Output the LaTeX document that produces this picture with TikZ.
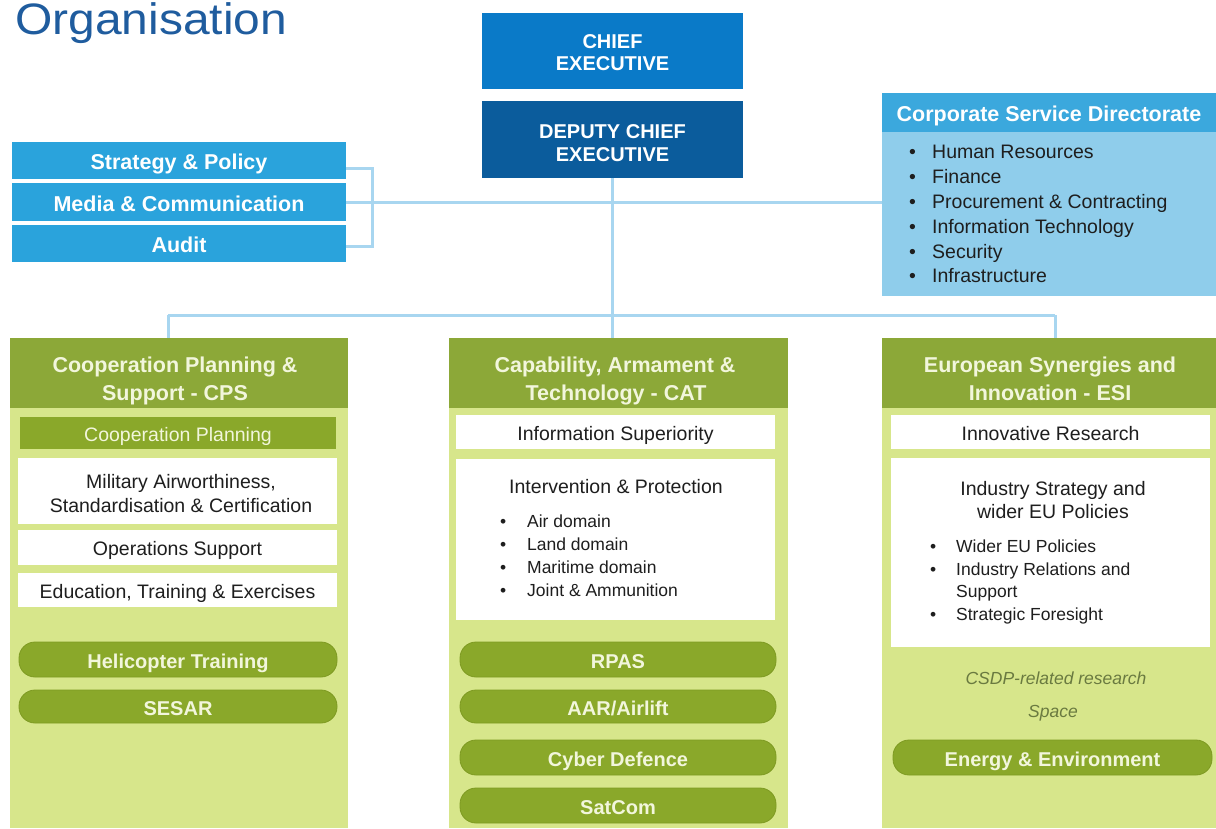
\documentclass[tikz,border=0pt]{standalone}
\usepackage{fontspec}
\setmainfont{Liberation Sans}
\definecolor{titleblue}{HTML}{1F5C9E}
\definecolor{ceblue}{HTML}{0A7AC8}
\definecolor{dceblue}{HTML}{0B5C9C}
\definecolor{skyblue}{HTML}{2AA3DC}
\definecolor{csdhead}{HTML}{3BA8DD}
\definecolor{csdbody}{HTML}{8FCDEB}
\definecolor{conncol}{HTML}{A8D6F0}
\definecolor{greenhead}{HTML}{8CA838}
\definecolor{greenbody}{HTML}{D7E68B}
\definecolor{pillgreen}{HTML}{8AA82A}
\definecolor{pilledge}{HTML}{7E9A22}
\definecolor{cream}{HTML}{F2F6DC}
\definecolor{darktext}{HTML}{1E1E1E}
\definecolor{olive}{HTML}{6A7A40}
\newcommand\fhead{\fontsize{21.5pt}{26pt}\selectfont\bfseries}
\newcommand\fexec{\fontsize{20pt}{24pt}\selectfont\bfseries}
\newcommand\fbody{\fontsize{19.5pt}{23pt}\selectfont}
\newcommand\fsmall{\fontsize{17.5pt}{21pt}\selectfont}
\newcommand\fpill{\fontsize{20pt}{24pt}\selectfont\bfseries}
\newcommand\ftitle{\fontsize{44pt}{50pt}\selectfont}
\tikzset{
  bx/.style={rectangle, inner sep=0pt, draw=none},
  sidebox/.style={bx, fill=skyblue, minimum width=334pt, text=white, font=\fhead, text height=18pt, text depth=0pt},
  wbox/.style={bx, fill=white, text=darktext, font=\fbody, text height=16.5pt, text depth=0pt},
  pill/.style={rectangle, rounded corners=16pt, fill=pillgreen, draw=pilledge, line width=0.8pt, inner sep=0pt, text=cream, font=\fpill, text height=17pt, text depth=0pt},
  txt/.style={inner sep=0pt, anchor=base},
  hd/.style={txt, font=\fhead, text=cream},
  ex/.style={txt, font=\fexec, text=white},
  ln/.style={txt, font=\fbody, text=darktext},
  itm/.style={inner sep=0pt, anchor=base west, text=darktext},
  conn/.style={draw=conncol, line width=3pt}
}
\begin{document}
\begin{tikzpicture}[x=1pt,y=-1pt]
\useasboundingbox (0,0) rectangle (1216,828);
% title
\node[inner sep=0pt, anchor=base west, font=\ftitle, text=titleblue, xscale=1.09] (title) at (15,34.5) {Organisation};
% executive boxes
\node[bx, fill=ceblue, minimum width=261pt, minimum height=76pt] (ce) at (612.5,51) {};
\node[ex] (ce1) at (612.5,48) {CHIEF};
\node[ex] (ce2) at (612.5,70) {EXECUTIVE};
\node[bx, fill=dceblue, minimum width=261pt, minimum height=77pt] (dce) at (612.5,139.5) {};
\node[ex] (dce1) at (612.5,138) {DEPUTY CHIEF};
\node[ex] (dce2) at (612.5,161) {EXECUTIVE};
% side boxes
\node[sidebox, minimum height=37pt] (sp) at (179,160.5) {Strategy \& Policy};
\node[sidebox, minimum height=38pt] (media) at (179,202) {Media \& Communication};
\node[sidebox, minimum height=37pt] (audit) at (179,243.5) {Audit};
% corporate
\node[bx, fill=csdbody, minimum width=334pt, minimum height=164pt] (csd) at (1049,214) {};
\node[bx, fill=csdhead, minimum width=334pt, minimum height=39pt, text=white, font=\fhead, text height=18pt, text depth=0pt] (csdh) at (1049,112.5) {Corporate Service Directorate};
\begin{scope}[every node/.style={itm, font=\fbody}]
\node (ci1) at (909,158) {\makebox[23pt][l]{•}Human Resources};
\node (ci2) at (909,183) {\makebox[23pt][l]{•}Finance};
\node (ci3) at (909,208) {\makebox[23pt][l]{•}Procurement \& Contracting};
\node (ci4) at (909,233) {\makebox[23pt][l]{•}Information Technology};
\node (ci5) at (909,258) {\makebox[23pt][l]{•}Security};
\node (ci6) at (909,282) {\makebox[23pt][l]{•}Infrastructure};
\end{scope}
% columns
\node[bx, fill=greenbody, minimum width=338pt, minimum height=490pt] (cps) at (179,583) {};
\node[bx, fill=greenhead, minimum width=338pt, minimum height=70pt] (cpsh) at (179,373) {};
\node[hd] (cpsh1) at (175,372) {Cooperation Planning \&};
\node[hd] (cpsh2) at (175,400) {Support - CPS};
\node[bx, fill=greenbody, minimum width=339pt, minimum height=490pt] (cat) at (618.5,583) {};
\node[bx, fill=greenhead, minimum width=339pt, minimum height=70pt] (cath) at (618.5,373) {};
\node[hd] (cath1) at (615,372) {Capability, Armament \&};
\node[hd] (cath2) at (616,400) {Technology - CAT};
\node[bx, fill=greenbody, minimum width=334pt, minimum height=490pt] (esi) at (1049,583) {};
\node[bx, fill=greenhead, minimum width=334pt, minimum height=70pt] (esih) at (1049,373) {};
\node[hd] (esih1) at (1050,372) {European Synergies and};
\node[hd] (esih2) at (1050,400) {Innovation - ESI};
% CPS content
\node[bx, fill=pillgreen, minimum width=316pt, minimum height=32pt, text=cream, font=\fbody, text height=16.5pt, text depth=0pt] (coop) at (178,433) {Cooperation Planning};
\node[wbox, minimum width=319pt, minimum height=66pt] (mil) at (177.5,491) {};
\node[ln] (mil1) at (181,488) {Military Airworthiness,};
\node[ln] (mil2) at (181,512) {Standardisation \& Certification};
\node[wbox, minimum width=319pt, minimum height=35pt] (ops) at (177.5,547.5) {Operations Support};
\node[wbox, minimum width=319pt, minimum height=34pt] (edu) at (177.5,590) {Education, Training \& Exercises};
\node[pill, minimum width=318pt, minimum height=35pt] (heli) at (178,659.5) {Helicopter Training};
\node[pill, minimum width=318pt, minimum height=33pt] (sesar) at (178,706.5) {SESAR};
% CAT content
\node[wbox, minimum width=319pt, minimum height=34pt] (info) at (615.5,432) {Information Superiority};
\node[wbox, minimum width=319pt, minimum height=161pt] (ip) at (615.5,539.5) {};
\node[ln] (ip0) at (616,493) {Intervention \& Protection};
\begin{scope}[every node/.style={itm, font=\fsmall}]
\node (ip1) at (500,527) {\makebox[27pt][l]{•}Air domain};
\node (ip2) at (500,550) {\makebox[27pt][l]{•}Land domain};
\node (ip3) at (500,573) {\makebox[27pt][l]{•}Maritime domain};
\node (ip4) at (500,596) {\makebox[27pt][l]{•}Joint \& Ammunition};
\end{scope}
\node[pill, minimum width=316pt, minimum height=35pt] (rpas) at (618,659.5) {RPAS};
\node[pill, minimum width=316pt, minimum height=33pt] (aar) at (618,706.5) {AAR/Airlift};
\node[pill, minimum width=316pt, minimum height=35pt] (cyber) at (618,757.5) {Cyber Defence};
\node[pill, minimum width=316pt, minimum height=35pt] (satcom) at (618,805.5) {SatCom};
% ESI content
\node[wbox, minimum width=319pt, minimum height=34pt] (innov) at (1050.5,432) {Innovative Research};
\node[wbox, minimum width=319pt, minimum height=189pt] (ind) at (1050.5,552.5) {};
\node[ln] (ind1) at (1053,495) {Industry Strategy and};
\node[ln] (ind2) at (1053,518) {wider EU Policies};
\begin{scope}[every node/.style={itm, font=\fsmall}]
\node (ii1) at (930,552) {\makebox[26pt][l]{•}Wider EU Policies};
\node (ii2) at (930,575) {\makebox[26pt][l]{•}Industry Relations and};
\node (ii3) at (956,597) {Support};
\node (ii4) at (930,620) {\makebox[26pt][l]{•}Strategic Foresight};
\end{scope}
\node[txt, font=\fsmall\itshape, text=olive] (csdp) at (1056,684) {CSDP-related research};
\node[txt, font=\fsmall\itshape, text=olive] (space) at (1053,717) {Space};
\node[pill, minimum width=319pt, minimum height=35pt] (energy) at (1052.5,757.5) {Energy \& Environment};
% connectors
\coordinate (jl) at (168,315);
\coordinate (jr) at (1055,315);
\draw[conn] ([yshift=-7.5pt]sp.east) -| ([xshift=26pt]media.east) |- ([yshift=-2.5pt]audit.east);
\draw[conn] (media.east) -- (media.east -| csd.west);
\draw[conn] (dce.south) -- (dce.south |- jl);
\draw[conn] (jl) -- (jr);
\draw[conn] (jl) -- (jl |- cpsh.north);
\draw[conn] (dce.south |- jl) -- (dce.south |- cath.north);
\draw[conn] (jr) -- (jr |- esih.north);
\end{tikzpicture}
\end{document}
